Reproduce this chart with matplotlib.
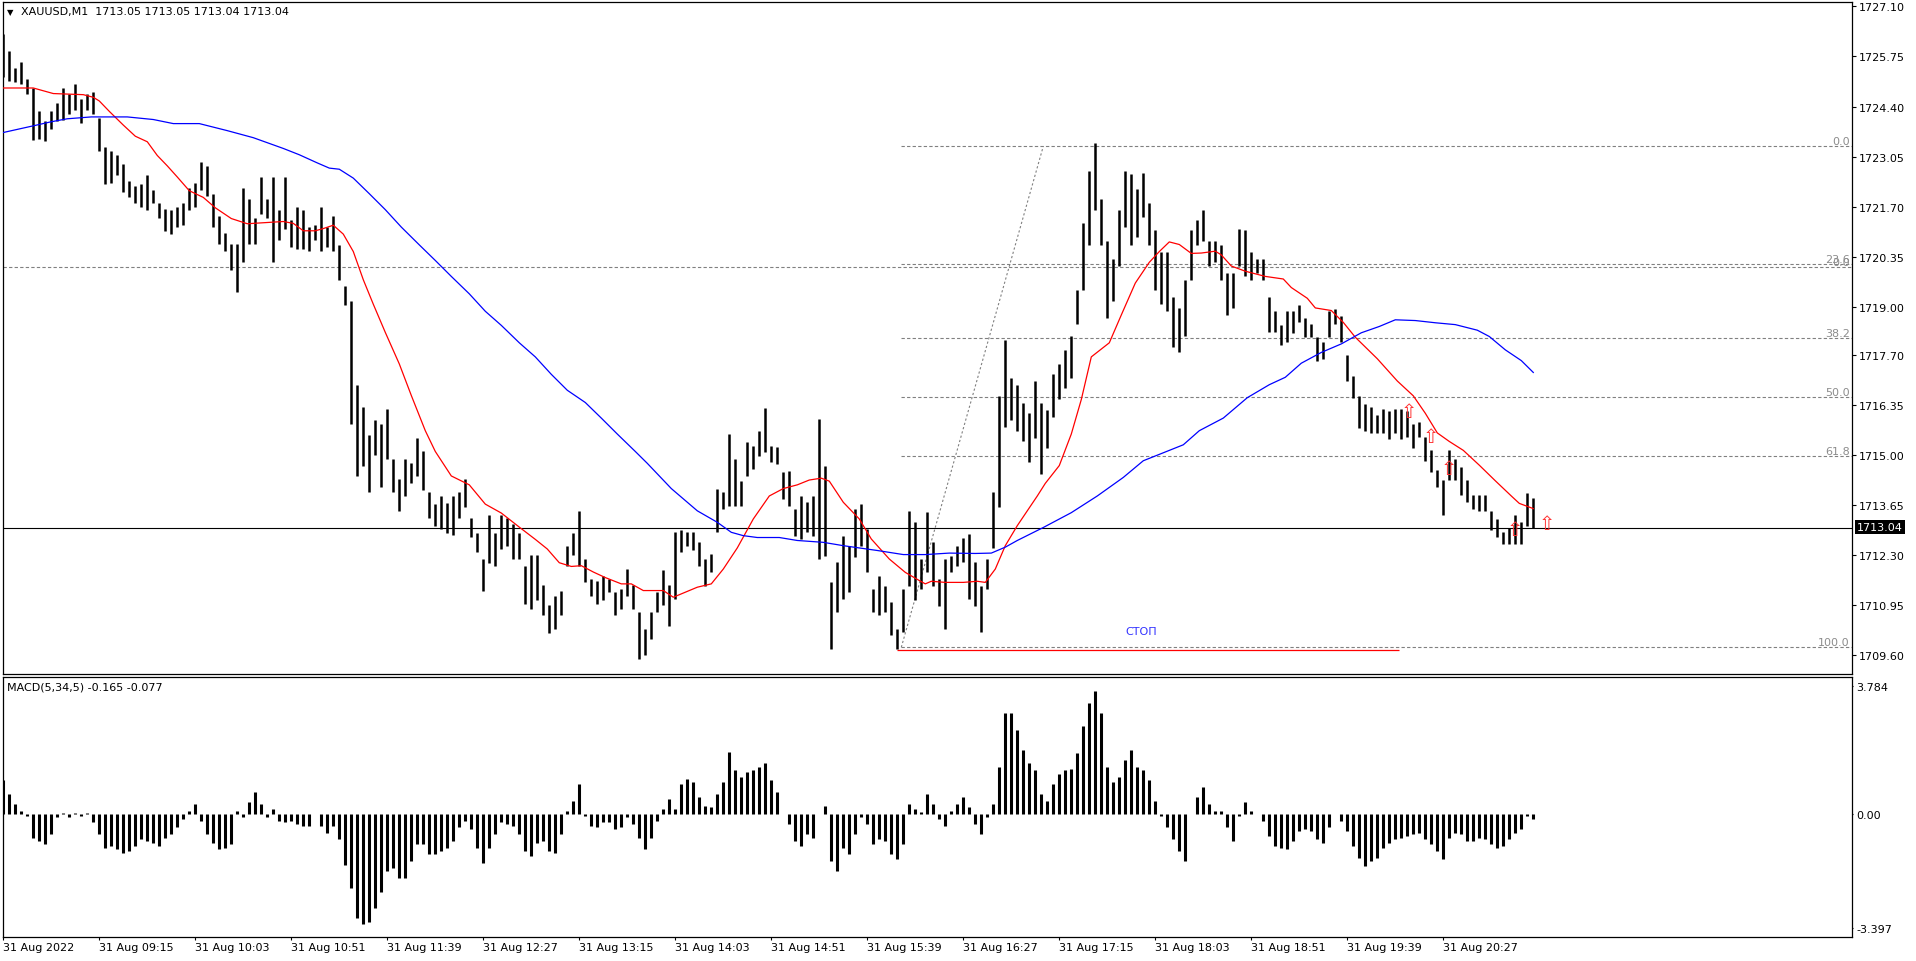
import numpy as np
import matplotlib
matplotlib.use('Agg')
import matplotlib.pyplot as plt

W, H = 1916, 962

# ================================================================
# DATA - one bar every 3 minutes from 08:27
# ================================================================
bar_step = 3

highs = [
    1726.35, 1725.90, 1725.45, 1725.60, 1725.15, 1724.90, 1724.27, 1724.00, 1724.27, 1724.50,
    1724.90, 1724.75, 1725.00, 1724.60, 1724.75, 1724.80, 1724.10, 1723.30, 1723.20, 1723.10,
    1722.85, 1722.40, 1722.25, 1722.30, 1722.55, 1722.15, 1721.80, 1721.65, 1721.60, 1721.70,
    1721.80, 1722.20, 1722.35, 1722.90, 1722.80, 1722.05, 1721.45, 1721.00, 1720.70, 1720.70,
    1722.20, 1721.90, 1721.40, 1722.50, 1721.90, 1722.50, 1721.60, 1722.50, 1721.35, 1721.70,
    1721.60, 1721.15, 1721.20, 1721.70, 1721.15, 1721.45, 1720.67, 1719.55, 1719.15, 1716.90,
    1716.30, 1715.55, 1715.95, 1715.85, 1716.25, 1714.90, 1714.35, 1714.90, 1714.80, 1715.45,
    1715.10, 1714.00, 1713.68, 1713.90, 1713.70, 1713.90, 1714.00, 1714.35, 1713.30, 1712.90,
    1712.20, 1713.40, 1712.90, 1713.40, 1713.30, 1713.15, 1712.90, 1712.00, 1712.30, 1712.30,
    1711.50, 1710.95, 1711.20, 1711.35, 1712.56, 1712.90, 1713.50, 1712.20, 1711.66, 1711.60,
    1711.75, 1711.66, 1711.30, 1711.40, 1711.93, 1711.50, 1710.76, 1710.30, 1710.76, 1711.30,
    1711.90, 1711.50, 1712.92, 1712.97, 1712.92, 1712.92, 1712.65, 1712.20, 1712.34, 1714.09,
    1714.00, 1715.57, 1714.90, 1714.30, 1715.35, 1715.26, 1715.66, 1716.26, 1715.26, 1715.21,
    1714.54, 1714.58, 1713.55, 1713.90, 1713.73, 1713.90, 1715.98, 1714.72, 1711.57, 1712.11,
    1712.83, 1712.56, 1713.55, 1713.68, 1713.01, 1711.39, 1711.75, 1711.48, 1711.03, 1710.31,
    1711.39, 1713.50, 1713.20, 1712.20, 1713.46, 1712.65, 1711.66, 1712.20, 1712.29, 1712.56,
    1712.78, 1712.87, 1712.11, 1711.48, 1712.20, 1714.00, 1716.60, 1718.10, 1717.08, 1716.90,
    1716.42, 1716.14, 1716.99, 1716.42, 1716.23, 1717.18, 1717.46, 1717.84, 1718.22, 1719.45,
    1721.25, 1722.67, 1723.42, 1721.90, 1720.77, 1720.30, 1721.62, 1722.67, 1722.57, 1722.19,
    1722.62, 1721.81, 1721.06, 1720.49, 1720.49, 1719.26, 1718.97, 1719.73, 1721.06, 1721.34,
    1721.62, 1720.77, 1720.77, 1720.68, 1719.92, 1719.92, 1721.10, 1721.06, 1720.49, 1720.30,
    1720.30, 1719.26, 1718.88, 1718.50, 1718.88, 1718.88, 1719.06, 1718.70, 1718.53, 1718.18,
    1718.06, 1718.88, 1718.94, 1718.76, 1717.71, 1717.13, 1716.60, 1716.37, 1716.31, 1716.07,
    1716.25, 1716.20, 1716.25, 1716.25, 1716.20, 1715.84, 1715.90, 1715.49, 1715.14, 1714.60,
    1714.32, 1715.14, 1714.90, 1714.67, 1714.32, 1713.92, 1713.92, 1713.92, 1713.50, 1713.27,
    1712.92, 1713.04, 1713.38, 1713.20, 1713.97, 1713.85,
]

lows = [
    1725.20, 1725.10, 1725.05, 1725.00, 1724.75, 1723.50, 1723.52, 1723.47, 1723.80, 1724.00,
    1724.05, 1724.20, 1724.30, 1723.95, 1724.30, 1724.20, 1723.20, 1722.30, 1722.35, 1722.55,
    1722.10, 1721.95, 1721.80, 1721.70, 1721.60, 1721.80, 1721.40, 1721.05, 1720.95, 1721.15,
    1721.20, 1721.60, 1721.70, 1722.15, 1722.00, 1721.15, 1720.70, 1720.50, 1720.00, 1719.40,
    1720.20, 1720.70, 1720.70, 1721.50, 1721.40, 1720.20, 1720.80, 1721.10, 1720.60, 1720.55,
    1720.55, 1720.50, 1720.80, 1720.50, 1720.60, 1720.50, 1719.73, 1719.06, 1715.85, 1714.45,
    1714.70, 1714.00, 1715.00, 1714.15, 1714.90, 1714.00, 1713.50, 1713.90, 1714.25, 1714.45,
    1714.05, 1713.30, 1713.10, 1713.00, 1712.90, 1712.85, 1713.30, 1713.60, 1712.80, 1712.40,
    1711.35, 1712.10, 1712.00, 1712.47, 1712.56, 1712.20, 1712.20, 1711.00, 1710.85, 1711.10,
    1710.68, 1710.20, 1710.30, 1710.68, 1712.00, 1712.30, 1712.00, 1711.57, 1711.20, 1711.00,
    1711.10, 1711.30, 1710.68, 1710.85, 1711.20, 1710.85, 1709.50, 1709.60, 1710.05, 1710.76,
    1710.95, 1710.40, 1711.12, 1712.38, 1712.56, 1712.43, 1712.02, 1711.48, 1711.84, 1712.92,
    1713.55, 1713.64, 1713.64, 1713.64, 1714.45, 1714.63, 1714.99, 1715.08, 1714.81, 1714.76,
    1713.82, 1713.64, 1712.83, 1712.74, 1712.92, 1712.83, 1712.20, 1712.29, 1709.78, 1710.76,
    1711.12, 1711.30, 1712.25, 1712.56, 1711.84, 1710.76, 1710.68, 1710.76, 1710.14, 1709.78,
    1710.22, 1711.48, 1711.10, 1711.40, 1711.84, 1711.48, 1710.94, 1710.32, 1711.84, 1712.02,
    1712.11, 1711.12, 1710.94, 1710.22, 1711.39, 1712.50, 1713.60, 1715.76, 1715.95, 1715.66,
    1715.38, 1714.81, 1715.47, 1714.48, 1715.19, 1716.04, 1716.52, 1716.80, 1717.08, 1718.55,
    1719.45, 1720.68, 1721.62, 1720.68, 1718.69, 1719.16, 1720.11, 1721.15, 1720.68, 1720.87,
    1721.43, 1720.68, 1719.45, 1719.07, 1718.88, 1717.93, 1717.79, 1718.22, 1719.73, 1720.68,
    1720.77, 1720.11, 1720.20, 1719.73, 1718.78, 1718.97, 1720.11, 1719.83, 1719.73, 1719.92,
    1719.73, 1718.31, 1718.31, 1717.98, 1718.06, 1718.30, 1718.58, 1718.18, 1718.18, 1717.54,
    1717.60, 1718.18, 1718.53, 1718.06, 1717.00, 1716.54, 1715.72, 1715.66, 1715.60, 1715.60,
    1715.60, 1715.43, 1715.60, 1715.43, 1715.49, 1715.20, 1715.49, 1714.85, 1714.55, 1714.14,
    1713.38, 1714.32, 1714.32, 1713.92, 1713.74, 1713.56, 1713.50, 1713.50, 1712.97, 1712.80,
    1712.60, 1712.60, 1712.60, 1712.60, 1713.10, 1713.04,
]

# red (fast) moving average, minutes since 08:27
red_t = [0, 15, 25, 40, 45, 48, 53, 60, 66, 72, 77, 82, 87, 93, 100, 106, 114, 122, 140, 145,
         150, 156, 160, 165, 170, 175, 180, 185, 191, 198, 204, 211, 216, 224, 233, 241, 249, 258, 266, 272,
         278, 284, 289, 295, 301, 309, 314, 320, 330, 335, 347, 354, 360, 367, 375, 383, 390, 397, 403, 409,
         413, 420, 428, 434, 443, 451, 458, 461, 464, 471, 480, 487, 491, 496, 501, 507, 517, 521, 528, 534,
         539, 544, 553, 559, 566, 573, 578, 583, 588, 594, 599, 606, 609, 614, 621, 631, 640, 644, 652, 656,
         664, 670, 676, 687, 697, 705, 711, 717, 723, 730, 738, 746, 754, 758, 765]
red_ma = [1724.90, 1724.90, 1724.75, 1724.72, 1724.65, 1724.55, 1724.27, 1723.90, 1723.60, 1723.45,
          1723.08, 1722.80, 1722.50, 1722.13, 1721.95, 1721.67, 1721.38, 1721.24, 1721.30, 1721.25,
          1721.05, 1721.05, 1721.11, 1721.20, 1720.96, 1720.49, 1719.73, 1719.07, 1718.31, 1717.46,
          1716.61, 1715.66, 1715.10, 1714.44, 1714.20, 1713.68, 1713.44, 1713.06, 1712.73, 1712.47,
          1712.10, 1712.00, 1712.02, 1711.85, 1711.70, 1711.53, 1711.53, 1711.35, 1711.35, 1711.17,
          1711.44, 1711.53, 1711.93, 1712.50, 1713.28, 1713.90, 1714.10, 1714.20, 1714.33, 1714.38,
          1714.30, 1713.73, 1713.28, 1712.74, 1712.20, 1711.84, 1711.62, 1711.53, 1711.60, 1711.57,
          1711.57, 1711.60, 1711.57, 1711.93, 1712.56, 1713.10, 1713.90, 1714.24, 1714.72, 1715.57,
          1716.50, 1717.65, 1718.03, 1718.78, 1719.64, 1720.20, 1720.49, 1720.75, 1720.68, 1720.44,
          1720.45, 1720.50, 1720.40, 1720.10, 1719.96, 1719.82, 1719.75, 1719.52, 1719.23, 1718.97,
          1718.90, 1718.58, 1718.18, 1717.60, 1717.00, 1716.60, 1716.13, 1715.60, 1715.37, 1715.13,
          1714.73, 1714.31, 1713.90, 1713.70, 1713.56]

# blue (slow) moving average
blue_t = [0, 15, 24, 32, 44, 62, 75, 85, 98, 112, 125, 140, 148, 157, 163, 168, 175, 183, 191, 199,
          208, 216, 224, 233, 241, 249, 258, 266, 274, 282, 291, 299, 307, 316, 322, 334, 347, 357, 364, 370,
          377, 388, 397, 410, 420, 437, 450, 461, 473, 486, 494, 501, 507, 520, 534, 547, 560, 570, 577, 590,
          598, 610, 622, 633, 641, 649, 659, 669, 679, 688, 696, 706, 716, 726, 737, 743, 751, 759, 765]
blue_ma = [1723.70, 1723.88, 1723.99, 1724.07, 1724.12, 1724.12, 1724.05, 1723.94, 1723.94, 1723.75,
           1723.56, 1723.27, 1723.10, 1722.88, 1722.74, 1722.71, 1722.47, 1722.05, 1721.62, 1721.15,
           1720.67, 1720.25, 1719.82, 1719.35, 1718.88, 1718.50, 1718.03, 1717.65, 1717.18, 1716.75,
           1716.42, 1716.00, 1715.57, 1715.10, 1714.78, 1714.10, 1713.50, 1713.19, 1712.92, 1712.83,
           1712.78, 1712.78, 1712.70, 1712.65, 1712.56, 1712.43, 1712.32, 1712.32, 1712.36, 1712.35,
           1712.36, 1712.52, 1712.70, 1713.05, 1713.45, 1713.90, 1714.40, 1714.85, 1715.00, 1715.28,
           1715.66, 1716.00, 1716.55, 1716.90, 1717.10, 1717.48, 1717.77, 1718.00, 1718.30, 1718.47,
           1718.65, 1718.63, 1718.57, 1718.52, 1718.37, 1718.20, 1717.84, 1717.55, 1717.23]

# MACD(5,34,5) histogram, same 3 minute steps
macd_hist = [
    1.0, 0.6, 0.3, 0.1, -0.05, -0.7, -0.8, -0.9, -0.6, -0.1,
    0.03, -0.1, 0.02, -0.05, 0.02, -0.25, -0.6, -1.0, -0.95, -1.05,
    -1.15, -1.1, -0.95, -0.75, -0.8, -0.85, -0.95, -0.7, -0.6, -0.4,
    -0.15, 0.1, 0.3, -0.2, -0.6, -0.85, -1.05, -1.0, -0.9, 0.1,
    -0.1, 0.35, 0.65, 0.3, -0.1, 0.15, -0.2, -0.25, -0.2, -0.3,
    -0.35, -0.35, 0.0, -0.35, -0.55, -0.35, -0.75, -1.5, -2.2, -3.1,
    -3.25, -3.2, -2.8, -2.3, -1.7, -1.6, -1.9, -1.9, -1.4, -0.9,
    -0.9, -1.2, -1.2, -1.1, -1.0, -0.8, -0.4, -0.2, -0.45, -1.0,
    -1.45, -1.0, -0.6, -0.25, -0.3, -0.35, -0.6, -1.1, -1.25, -0.85,
    -0.8, -1.1, -1.15, -0.6, 0.1, 0.4, 0.9, -0.05, -0.35, -0.4,
    -0.25, -0.25, -0.45, -0.4, -0.1, -0.3, -0.7, -1.05, -0.7, -0.2,
    0.15, 0.45, 0.15, 0.9, 1.05, 0.95, 0.5, 0.25, 0.2, 0.6,
    0.95, 1.85, 1.3, 1.1, 1.25, 1.3, 1.4, 1.5, 1.0, 0.65,
    0.0, -0.3, -0.8, -0.95, -0.6, -0.7, 0.0, 0.25, -1.4, -1.7,
    -1.0, -1.2, -0.6, -0.1, -0.3, -0.9, -0.75, -0.8, -1.2, -1.35,
    -0.9, 0.3, 0.15, 0.05, 0.6, 0.3, -0.15, -0.35, 0.1, 0.3,
    0.5, 0.2, -0.3, -0.6, -0.1, 0.3, 1.4, 3.0, 3.0, 2.5,
    1.9, 1.5, 1.3, 0.6, 0.4, 0.9, 1.2, 1.3, 1.35, 1.8,
    2.6, 3.3, 3.66, 3.0, 1.4, 0.95, 1.1, 1.6, 1.9, 1.4,
    1.3, 1.0, 0.4, -0.05, -0.4, -0.75, -1.1, -1.4, 0.0, 0.5,
    0.8, 0.3, 0.1, 0.1, -0.4, -0.8, -0.05, 0.35, 0.1, 0.0,
    -0.2, -0.65, -0.95, -1.0, -1.05, -0.8, -0.5, -0.45, -0.5, -0.75,
    -0.85, -0.4, 0.0, -0.2, -0.5, -0.95, -1.3, -1.55, -1.4, -1.3,
    -1.0, -0.85, -0.75, -0.7, -0.65, -0.6, -0.55, -0.75, -0.9, -1.1,
    -1.35, -0.7, -0.55, -0.6, -0.8, -0.8, -0.7, -0.75, -0.9, -1.0,
    -0.95, -0.75, -0.55, -0.45, -0.05, -0.15,
]

# drawn objects
fib_high, fib_low = 1723.33, 1709.82
fib_t0, fib_t1 = 449, 520
fib_ratios = [0.0, 23.6, 38.2, 50.0, 61.8, 100.0]
hline_price = 1720.07
stop_price = 1709.76
stop_t = [447, 698]
stop_label_t, stop_label_p = 569, 1710.26
arrow_t = [703, 714, 723, 756, 772]
arrow_p = [1716.18, 1715.50, 1714.63, 1713.00, 1713.17]
last_price = 1713.04

price_ticks = [1727.10, 1725.75, 1724.40, 1723.05, 1721.70, 1720.35, 1719.00,
               1717.70, 1716.35, 1715.00, 1713.65, 1712.30, 1710.95, 1709.60]
macd_ticks = [3.784, 0.0, -3.397]
macd_tick_labels = ['3.784', '0.00', '-3.397']
time_labels = ['31 Aug 2022', '31 Aug 09:15', '31 Aug 10:03', '31 Aug 10:51',
               '31 Aug 11:39', '31 Aug 12:27', '31 Aug 13:15', '31 Aug 14:03',
               '31 Aug 14:51', '31 Aug 15:39', '31 Aug 16:27', '31 Aug 17:15',
               '31 Aug 18:03', '31 Aug 18:51', '31 Aug 19:39', '31 Aug 20:27']
label_step = 48

# ================================================================
# FIGURE
# ================================================================
plt.rcParams['font.family'] = ['DejaVu Sans']
fig = plt.figure(figsize=(W / 100, H / 100), dpi=100)
fig.patch.set_facecolor('white')


def px_rect(x0, y0, x1, y1):
    return [x0 / W, 1 - y1 / H, (x1 - x0) / W, (y1 - y0) / H]


ax = fig.add_axes(px_rect(2.5, 2.5, 1852, 675))
ax2 = fig.add_axes(px_rect(2.5, 677.5, 1852, 938))

T0, T1 = -0.4, 924.35
for a in (ax, ax2):
    a.set_xlim(T0, T1)
    for s in a.spines.values():
        s.set_linewidth(0.9)
        s.set_color('black')
ax.set_ylim(1709.10, 1727.232)
ax2.set_ylim(-3.650, 4.080)

# --- main chart ---
t_bar = np.arange(len(highs)) * bar_step
ax.vlines(t_bar, lows, highs, color='black', lw=1.8, zorder=3)
ax.plot(red_t, red_ma, color='#ff0000', lw=0.9, zorder=4)
ax.plot(blue_t, blue_ma, color='#0000ff', lw=0.9, zorder=4)

dash = (0, (3, 2))
ax.axhline(hline_price, color='#808080', lw=0.8, ls=dash, zorder=1)
fib_levels = [fib_high - r / 100 * (fib_high - fib_low) for r in fib_ratios]
ax.hlines(fib_levels, fib_t0, T1, color='#808080', lw=0.8, ls=dash, zorder=1)
ax.plot([fib_t0, fib_t1], [fib_low, fib_high], color='#808080', lw=0.8,
        ls=(0, (2, 2)), zorder=1)
for r, lv in zip(fib_ratios, fib_levels):
    ax.text(923.3, lv, f'{r:.1f}', ha='right', va='bottom', fontsize=8,
            color='#8c8c8c', zorder=5)
# second object's "0.0" label sits on top of "23.6", as in the terminal
ax.text(923.3, hline_price, '0.0', ha='right', va='bottom', fontsize=8,
        color='#8c8c8c', zorder=5)

ax.hlines(stop_price, stop_t[0], stop_t[1], color='#ff0000', lw=0.9, zorder=2)
ax.text(stop_label_t, stop_label_p, 'СТОП', color='#3232ff', fontsize=8,
        ha='center', va='center')

ax.axhline(last_price, color='black', lw=0.8, zorder=2)

for at, ap in zip(arrow_t, arrow_p):
    ax.text(at, ap, '\u21e7', color='#ff3030', fontsize=14, ha='center',
            va='center', zorder=6)

ax.set_xticks([])
ax.yaxis.tick_right()
ax.set_yticks(price_ticks)
ax.set_yticklabels([f'{p:.2f}' for p in price_ticks])
ax.tick_params(axis='y', direction='out', length=2.9, width=0.8, pad=2,
               labelsize=8)

# current price tag
fig.text(1857 / W, 1 - 528 / H, f'{last_price:.2f}', color='white', fontsize=8,
         ha='left', va='center',
         bbox=dict(boxstyle='square,pad=0.2', fc='black', ec='none'))

# title
fig.text(7 / W, 1 - 12.5 / H, '\u25bc', fontsize=6, va='center')
fig.text(21 / W, 1 - 12.5 / H, 'XAUUSD,M1  1713.05 1713.05 1713.04 1713.04',
         fontsize=8, va='center')

# --- MACD window ---
t_macd = np.arange(len(macd_hist)) * bar_step
ax2.vlines(t_macd, 0, macd_hist, color='black', lw=2.2)
ax2.yaxis.tick_right()
ax2.set_yticks(macd_ticks)
ax2.set_yticklabels(macd_tick_labels)
ax2.tick_params(axis='y', direction='out', length=1, width=0.8, pad=2,
                labelsize=8)
ax2.set_xticks([label_step * k for k in range(len(time_labels))])
ax2.set_xticklabels(time_labels)
for lbl in ax2.get_xticklabels():
    lbl.set_ha('left')
ax2.tick_params(axis='x', direction='out', length=2.2, width=0.8, pad=1.5,
                labelsize=8)
fig.text(7 / W, 1 - 688 / H, 'MACD(5,34,5) -0.165 -0.077', fontsize=8,
         va='center')

fig.savefig('out.png', dpi=100, facecolor='white')
plt.close(fig)
